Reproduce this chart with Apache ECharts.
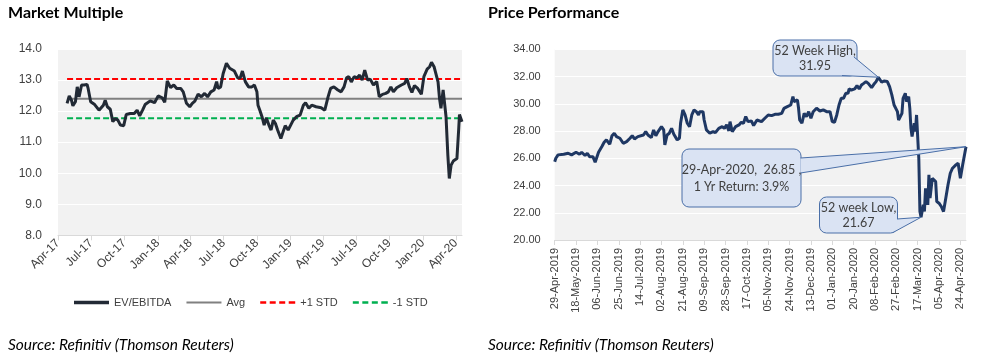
<!DOCTYPE html>
<html>
<head>
<meta charset="utf-8">
<script src="https://cdn.jsdelivr.net/npm/echarts@6/dist/echarts.min.js"></script>
<style>html,body{margin:0;padding:0;background:#fff}#c{width:992px;height:364px}</style>
</head>
<body>
<div id="c"></div>
<script>
// ---------- DATA ----------
const mmTitle = 'Market Multiple';
const pfTitle = 'Price Performance';
const sourceText = 'Source: Refinitiv (Thomson Reuters)';
const mmYTicks = [8, 9, 10, 11, 12, 13, 14];
const pfYTicks = [20, 22, 24, 26, 28, 30, 32, 34];
const mmLegend = ['EV/EBITDA', 'Avg', '+1 STD', '-1 STD'];
const mmAvg = 12.40;
const mmPlusStd = 13.03;
const mmMinusStd = 11.77;
const mmFirstDate = '2017-04-01';
const mmLastDate = '2020-04-18';
const pfFirstDate = '2019-04-29';
const pfLastDate = '2020-04-29';

const evEbitda = [
['2017-04-26',12.25],['2017-05-02',12.49],['2017-05-08',12.35],['2017-05-12',12.17],['2017-05-19',12.30],
['2017-05-24',12.78],['2017-05-29',12.46],['2017-06-05',12.84],['2017-06-12',12.84],['2017-06-20',12.86],
['2017-06-23',12.73],['2017-06-30',12.30],['2017-07-11',12.21],['2017-07-23',12.03],['2017-08-04',12.19],
['2017-08-09',12.35],['2017-08-15',12.14],['2017-08-23',12.06],['2017-08-30',11.66],['2017-09-06',11.76],
['2017-09-13',11.71],['2017-09-20',11.55],['2017-09-29',11.53],['2017-10-06',11.89],['2017-10-17',11.92],
['2017-10-28',11.92],['2017-11-05',12.03],['2017-11-12',11.85],['2017-11-20',12.03],['2017-11-27',12.21],
['2017-12-11',12.33],['2017-12-23',12.27],['2018-01-02',12.49],['2018-01-13',12.43],['2018-01-20',12.28],
['2018-01-27',12.97],['2018-02-05',12.76],['2018-02-14',12.84],['2018-02-22',12.73],['2018-03-05',12.73],
['2018-03-12',12.62],['2018-03-21',12.25],['2018-03-30',12.14],['2018-04-06',12.25],['2018-04-13',12.32],
['2018-04-22',12.55],['2018-05-01',12.46],['2018-05-10',12.57],['2018-05-18',12.46],['2018-05-27',12.62],
['2018-06-05',12.68],['2018-06-12',12.95],['2018-06-16',12.73],['2018-06-23',12.78],['2018-06-30',13.21],
['2018-07-09',13.54],['2018-07-18',13.38],['2018-07-31',13.29],['2018-08-09',13.07],['2018-08-16',13.07],
['2018-08-22',13.29],['2018-08-30',12.95],['2018-09-08',12.78],['2018-09-17',12.78],['2018-09-24',12.84],
['2018-10-01',12.62],['2018-10-04',12.19],['2018-10-09',12.03],['2018-10-15',11.82],['2018-10-21',11.55],
['2018-10-27',11.78],['2018-11-03',11.55],['2018-11-09',11.39],['2018-11-15',11.71],['2018-11-21',11.60],
['2018-11-27',11.39],['2018-12-06',11.12],['2018-12-12',11.33],['2018-12-18',11.53],['2018-12-26',11.39],
['2019-01-02',11.55],['2019-01-09',11.71],['2019-01-18',11.82],['2019-01-28',11.87],['2019-02-06',12.19],
['2019-02-12',12.27],['2019-02-21',12.09],['2019-03-01',12.19],['2019-03-13',12.14],['2019-03-27',12.11],
['2019-04-06',12.03],['2019-04-10',12.00],['2019-04-15',12.46],['2019-04-22',12.73],['2019-05-01',12.78],
['2019-05-12',12.68],['2019-05-21',12.62],['2019-05-29',12.78],['2019-06-05',13.07],['2019-06-11',13.11],
['2019-06-18',12.94],['2019-06-26',13.11],['2019-07-04',13.07],['2019-07-11',13.16],['2019-07-18',13.00],
['2019-07-25',13.32],['2019-08-02',13.00],['2019-08-09',13.03],['2019-08-18',12.84],['2019-08-27',12.95],
['2019-09-03',12.46],['2019-09-12',12.54],['2019-09-21',12.57],['2019-09-28',12.62],['2019-10-05',12.78],
['2019-10-12',12.62],['2019-10-21',12.75],['2019-11-03',12.84],['2019-11-12',12.89],['2019-11-18',13.05],
['2019-11-25',12.78],['2019-12-02',12.60],['2019-12-09',12.82],['2019-12-18',12.73],['2019-12-28',12.54],
['2020-01-04',13.11],['2020-01-13',13.35],['2020-01-20',13.43],['2020-01-25',13.57],['2020-02-01',13.43],
['2020-02-06',13.48],['2020-02-12',12.94],['2020-02-16',12.41],['2020-02-20',12.09],['2020-02-26',12.68],
['2020-03-01',12.62],['2020-03-05',11.82],['2020-03-10',10.58],['2020-03-14',9.83],['2020-03-19',10.26],
['2020-03-25',10.39],['2020-04-04',10.47],['2020-04-09',11.44],['2020-04-11',11.89],['2020-04-18',11.66]
];

const price = [
['2019-04-29',25.75],['2019-04-30',26.00],['2019-05-02',26.25],['2019-05-07',26.30],['2019-05-11',26.37],
['2019-05-14',26.25],['2019-05-18',26.44],['2019-05-21',26.30],['2019-05-23',26.44],['2019-05-26',26.20],
['2019-05-28',26.37],['2019-05-30',26.12],['2019-06-02',26.12],['2019-06-04',25.71],['2019-06-07',26.44],
['2019-06-10',26.86],['2019-06-12',27.18],['2019-06-14',27.35],['2019-06-17',27.03],['2019-06-19',27.66],
['2019-06-21',27.84],['2019-06-23',27.59],['2019-06-26',27.47],['2019-06-29',27.10],['2019-07-02',27.22],
['2019-07-05',27.47],['2019-07-07',27.66],['2019-07-09',27.42],['2019-07-12',27.59],['2019-07-17',27.71],
['2019-07-19',27.96],['2019-07-21',27.71],['2019-07-24',27.52],['2019-07-26',28.08],['2019-07-28',27.66],
['2019-07-30',27.96],['2019-08-02',28.32],['2019-08-04',28.08],['2019-08-05',26.98],['2019-08-07',27.71],
['2019-08-09',27.84],['2019-08-11',28.20],['2019-08-13',27.76],['2019-08-16',27.35],['2019-08-18',27.47],
['2019-08-19',28.57],['2019-08-21',29.55],['2019-08-23',29.18],['2019-08-25',28.57],['2019-08-27',28.32],
['2019-08-29',29.18],['2019-08-31',29.55],['2019-09-02',29.42],['2019-09-04',29.18],['2019-09-05',29.42],
['2019-09-08',29.42],['2019-09-09',28.81],['2019-09-11',28.08],['2019-09-14',27.84],['2019-09-17',27.96],
['2019-09-19',27.88],['2019-09-22',28.20],['2019-09-25',28.32],['2019-09-27',28.20],['2019-09-29',28.45],
['2019-10-01',28.01],['2019-10-02',28.69],['2019-10-04',27.96],['2019-10-07',28.32],['2019-10-10',28.45],
['2019-10-12',28.64],['2019-10-14',28.57],['2019-10-16',29.06],['2019-10-18',28.69],['2019-10-21',28.74],
['2019-10-23',28.40],['2019-10-26',28.81],['2019-10-30',28.69],['2019-11-02',28.94],['2019-11-05',29.18],
['2019-11-08',29.13],['2019-11-11',29.23],['2019-11-14',29.23],['2019-11-17',29.30],['2019-11-19',29.67],
['2019-11-22',29.79],['2019-11-23',29.67],['2019-11-25',29.91],['2019-11-27',30.53],['2019-11-28',30.16],
['2019-12-01',30.28],['2019-12-02',29.67],['2019-12-03',28.81],['2019-12-05',28.57],['2019-12-07',29.30],
['2019-12-09',29.06],['2019-12-11',29.42],['2019-12-13',28.94],['2019-12-15',29.42],['2019-12-18',29.67],
['2019-12-21',29.47],['2019-12-24',29.55],['2019-12-27',29.42],['2019-12-30',29.42],['2020-01-01',28.69],
['2020-01-03',28.64],['2020-01-05',29.18],['2020-01-07',29.91],['2020-01-09',30.40],['2020-01-11',30.40],
['2020-01-13',30.77],['2020-01-15',30.77],['2020-01-16',31.09],['2020-01-18',31.01],['2020-01-21',31.09],
['2020-01-23',31.33],['2020-01-25',31.09],['2020-01-27',31.38],['2020-01-29',31.50],['2020-01-31',31.63],
['2020-02-02',31.50],['2020-02-05',31.19],['2020-02-07',31.43],['2020-02-09',31.63],['2020-02-11',31.95],
['2020-02-14',31.58],['2020-02-16',31.67],['2020-02-19',31.63],['2020-02-21',31.26],['2020-02-23',30.65],
['2020-02-25',29.91],['2020-02-28',29.42],['2020-02-29',28.81],['2020-03-01',28.69],['2020-03-03',29.30],
['2020-03-04',30.40],['2020-03-06',30.77],['2020-03-07',30.16],['2020-03-09',30.53],['2020-03-10',29.67],
['2020-03-11',28.20],['2020-03-12',27.59],['2020-03-14',28.57],['2020-03-15',27.96],['2020-03-16',29.18],
['2020-03-17',29.30],['2020-03-18',26.00],['2020-03-19',22.09],['2020-03-20',21.67],['2020-03-22',22.58],
['2020-03-23',22.09],['2020-03-24',23.80],['2020-03-26',22.58],['2020-03-27',24.78],['2020-03-28',23.07],
['2020-03-30',24.53],['2020-03-31',24.53],['2020-04-02',24.29],['2020-04-03',22.82],['2020-04-05',22.70],
['2020-04-07',22.46],['2020-04-09',22.09],['2020-04-11',23.07],['2020-04-13',24.05],['2020-04-15',24.90],
['2020-04-17',25.27],['2020-04-18',25.15],['2020-04-20',25.51],['2020-04-22',25.64],['2020-04-24',24.53],
['2020-04-26',25.51],['2020-04-29',26.85]
];

const highPoint = ['2020-02-11', 31.95];
const lowPoint = ['2020-03-20', 21.67];
const lastPoint = ['2020-04-29', 26.85];
const highText = ['52 Week High,', '31.95'];
const lowText = ['52 week Low,', '21.67'];
const lastText = ['29-Apr-2020,  26.85 ,', '1 Yr Return: 3.9%'];

// ---------- helpers ----------
const MON = ['Jan','Feb','Mar','Apr','May','Jun','Jul','Aug','Sep','Oct','Nov','Dec'];
function pad(n){return (n<10?'0':'')+n;}
function dayList(a, b){
  const out = [];
  const s = a.split('-').map(Number), e = b.split('-').map(Number);
  let t = Date.UTC(s[0], s[1]-1, s[2]);
  const end = Date.UTC(e[0], e[1]-1, e[2]);
  while (t <= end) {
    const d = new Date(t);
    out.push(d.getUTCFullYear()+'-'+pad(d.getUTCMonth()+1)+'-'+pad(d.getUTCDate()));
    t += 86400000;
  }
  return out;
}
const mmCats = dayList(mmFirstDate, mmLastDate);
const pfCats = dayList(pfFirstDate, pfLastDate);
function isQuarterStart(v){
  return v.slice(8) === '01' && ['01','04','07','10'].indexOf(v.slice(5,7)) >= 0;
}

const FONT = '"Liberation Sans", Arial, sans-serif';
const axisGray = '#d9d9d9';
const txtGray = '#404040';

// legend icons (line samples)
const solidThick = 'path://M0,0h35v3.5h-35z';
const solidThin = 'path://M0,0.75h35v2h-35z';
const dashed = 'path://M0,0.5h6v2.5h-6zM9.5,0.5h6v2.5h-6zM19,0.5h6v2.5h-6zM28.5,0.5h6.5v2.5h-6.5z';

const chart = echarts.init(document.getElementById('c'), null, {renderer: 'canvas'});

const option = {
  animation: false,
  backgroundColor: '#ffffff',
  title: [
    {text: mmTitle, left: 8, top: 5, padding: 0, textStyle: {fontFamily: 'Lato', fontWeight: 'bold', fontSize: 16, color: '#000'}},
    {text: pfTitle, left: 488, top: 5, padding: 0, textStyle: {fontFamily: 'Lato', fontWeight: 'bold', fontSize: 16, color: '#000'}}
  ],
  legend: {
    data: [
      {name: mmLegend[0], icon: solidThick},
      {name: mmLegend[1], icon: solidThin},
      {name: mmLegend[2], icon: dashed},
      {name: mmLegend[3], icon: dashed}
    ],
    left: 74, top: 297,
    itemWidth: 35, itemHeight: 3.5, itemGap: 15,
    symbolKeepAspect: true,
    textStyle: {fontFamily: FONT, fontSize: 11, color: txtGray},
    padding: 0
  },
  grid: [
    {left: 58, top: 49, width: 404, height: 186.3, show: true, backgroundColor: '#f2f2f2', borderWidth: 0},
    {left: 554.7, top: 49.3, width: 411.3, height: 190.7, show: true, backgroundColor: '#f2f2f2', borderWidth: 0}
  ],
  xAxis: [
    {
      type: 'category', gridIndex: 0, data: mmCats, boundaryGap: false,
      axisLine: {show: true, lineStyle: {color: axisGray, width: 1}},
      axisTick: {show: true, length: 5, lineStyle: {color: axisGray}, interval: (i, v) => isQuarterStart(v)},
      axisLabel: {
        interval: (i, v) => isQuarterStart(v), rotate: 45, margin: 6,
        fontFamily: FONT, fontSize: 12, color: txtGray,
        formatter: v => MON[+v.slice(5,7)-1] + '-' + v.slice(2,4)
      },
      splitLine: {show: false}
    },
    {
      type: 'category', gridIndex: 1, data: pfCats, boundaryGap: false,
      axisLine: {show: true, lineStyle: {color: axisGray, width: 1}},
      axisTick: {show: true, length: 5, lineStyle: {color: axisGray}, interval: 18},
      axisLabel: {
        interval: 18, rotate: 90, margin: 8,
        fontFamily: FONT, fontSize: 11, color: txtGray,
        formatter: v => v.slice(8) + '-' + MON[+v.slice(5,7)-1] + '-' + v.slice(0,4)
      },
      splitLine: {show: false}
    }
  ],
  yAxis: [
    {
      type: 'value', gridIndex: 0, min: mmYTicks[0], max: mmYTicks[mmYTicks.length-1], interval: 1,
      axisLine: {show: false}, axisTick: {show: false},
      axisLabel: {margin: 16, fontFamily: FONT, fontSize: 12, color: txtGray, formatter: v => v.toFixed(1)},
      splitLine: {show: true, lineStyle: {color: '#ffffff', width: 1}}
    },
    {
      type: 'value', gridIndex: 1, min: pfYTicks[0], max: pfYTicks[pfYTicks.length-1], interval: 2,
      axisLine: {show: false}, axisTick: {show: false},
      axisLabel: {margin: 14, fontFamily: FONT, fontSize: 11, color: txtGray, formatter: v => v.toFixed(2)},
      splitLine: {show: true, lineStyle: {color: '#ffffff', width: 1}}
    }
  ],
  series: [
    {name: 'EV/EBITDA', type: 'line', xAxisIndex: 0, yAxisIndex: 0, symbol: 'none', z: 3,
     lineStyle: {color: '#222a35', width: 3}, itemStyle: {color: '#222a35'},
     data: evEbitda},
    {name: 'Avg', type: 'line', xAxisIndex: 0, yAxisIndex: 0, symbol: 'none', z: 2,
     lineStyle: {color: '#808080', width: 2}, itemStyle: {color: '#808080'},
     data: [[evEbitda[0][0], mmAvg], [evEbitda[evEbitda.length-1][0], mmAvg]]},
    {name: '+1 STD', type: 'line', xAxisIndex: 0, yAxisIndex: 0, symbol: 'none', z: 2,
     lineStyle: {color: '#ff0000', width: 2, type: [6, 3]}, itemStyle: {color: '#ff0000'},
     data: [[evEbitda[0][0], mmPlusStd], [evEbitda[evEbitda.length-1][0], mmPlusStd]]},
    {name: '-1 STD', type: 'line', xAxisIndex: 0, yAxisIndex: 0, symbol: 'none', z: 2,
     lineStyle: {color: '#00b050', width: 2, type: [6, 3]}, itemStyle: {color: '#00b050'},
     data: [[evEbitda[0][0], mmMinusStd], [evEbitda[evEbitda.length-1][0], mmMinusStd]]},
    {name: 'Price', type: 'line', xAxisIndex: 1, yAxisIndex: 1, symbol: 'none', z: 3,
     lineStyle: {color: '#1f3864', width: 3}, itemStyle: {color: '#1f3864'},
     data: price}
  ]
};
chart.setOption(option);

// ---------- callouts (anchored to data points) ----------
function tip(p){
  return chart.convertToPixel({xAxisIndex: 1, yAxisIndex: 1}, [pfCats.indexOf(p[0]), p[1]]);
}
const boxFill = '#dae3f3', boxStroke = '#4a6fa8';
function callout(box, b1, b2, t, lines, lineGap){
  const els = [];
  els.push({type: 'rect', z: 100, shape: {x: box[0], y: box[1], width: box[2], height: box[3], r: 7},
            style: {fill: boxFill, stroke: boxStroke, lineWidth: 1}});
  els.push({type: 'polygon', z: 101, shape: {points: [b1, t, b2]}, style: {fill: boxFill, stroke: null}});
  els.push({type: 'polyline', z: 102, shape: {points: [b1, t, b2]}, style: {stroke: boxStroke, lineWidth: 1, fill: null}});
  const cx = box[0] + box[2]/2;
  const cy = box[1] + box[3]/2;
  lines.forEach((ln, i) => {
    els.push({type: 'text', z: 103, x: cx, y: cy + (i - (lines.length-1)/2) * lineGap,
      style: {text: ln, fill: txtGray, font: '12.5px Lato, "Open Sans", sans-serif', textAlign: 'center', textVerticalAlign: 'middle'}});
  });
  return els;
}
const tHigh = tip(highPoint), tLow = tip(lowPoint), tLast = tip(lastPoint);
const graphics = [].concat(
  callout([773, 40, 84, 36], [854, 57], [842, 75.5], tHigh, highText, 15),
  callout([682, 149, 119, 58], [800.5, 158], [800.5, 173], tLast, lastText, 17),
  callout([819.5, 197, 78, 36], [897, 219], [893, 232.5], tLow, lowText, 15),
  [
    {type: 'text', left: 8, top: 337, style: {text: sourceText, fill: '#000', font: 'italic 15.5px Lato, "Open Sans", sans-serif'}},
    {type: 'text', left: 488, top: 337, style: {text: sourceText, fill: '#000', font: 'italic 15.5px Lato, "Open Sans", sans-serif'}}
  ]
);
chart.setOption({graphic: graphics});
</script>
</body>
</html>
